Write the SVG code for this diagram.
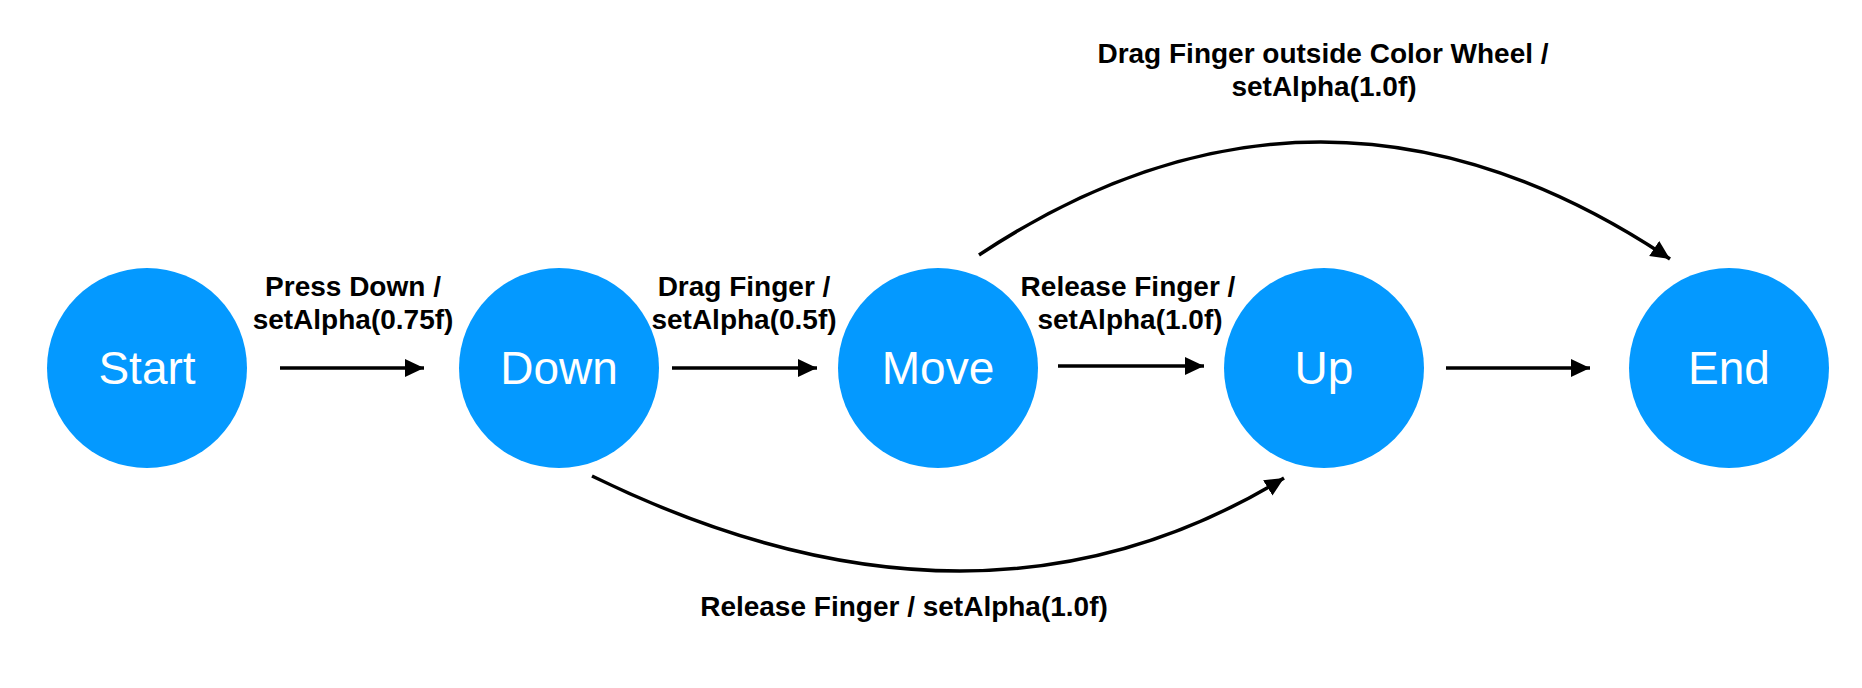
<svg xmlns="http://www.w3.org/2000/svg" width="1862" height="688" viewBox="0 0 1862 688">
<style>
.node{fill:#0499FF}
.ntext{font-family:"Liberation Sans",Arial,sans-serif;font-size:46px;fill:#fff;text-anchor:middle}
.lbl{font-family:"Liberation Sans",Arial,sans-serif;font-size:28px;font-weight:bold;fill:#000;text-anchor:middle}
.edge{fill:none;stroke:#000;stroke-width:3.5}
</style>
<defs>
<marker id="ah" markerUnits="userSpaceOnUse" markerWidth="22" markerHeight="22" refX="19" refY="9" orient="auto">
<path d="M0,0 L19,9 L0,18 Z" fill="#000"/>
</marker>
</defs>
<rect width="1862" height="688" fill="#fff"/>
<g id="start"><circle class="node" cx="147" cy="368" r="100"/><text class="ntext" x="147" y="384">Start</text></g>
<g id="down"><circle class="node" cx="559" cy="368" r="100"/><text class="ntext" x="559" y="384">Down</text></g>
<g id="move"><circle class="node" cx="938" cy="368" r="100"/><text class="ntext" x="938" y="384">Move</text></g>
<g id="up"><circle class="node" cx="1324" cy="368" r="100"/><text class="ntext" x="1324" y="384">Up</text></g>
<g id="end"><circle class="node" cx="1729" cy="368" r="100"/><text class="ntext" x="1729" y="384">End</text></g>
<g id="connectors">
<line class="edge" x1="280" y1="368" x2="424" y2="368" marker-end="url(#ah)"/>
<line class="edge" x1="672" y1="368" x2="817" y2="368" marker-end="url(#ah)"/>
<line class="edge" x1="1058" y1="366" x2="1204" y2="366" marker-end="url(#ah)"/>
<line class="edge" x1="1446" y1="368" x2="1590" y2="368" marker-end="url(#ah)"/>
<path class="edge" d="M979,255 Q1323,27 1670,259" marker-end="url(#ah)"/>
<path class="edge" d="M592,476 Q978,665 1284,478" marker-end="url(#ah)"/>
</g>
<g id="labels">
<text class="lbl" x="353" y="296">Press Down /</text>
<text class="lbl" x="353" y="329">setAlpha(0.75f)</text>
<text class="lbl" x="744" y="296">Drag Finger /</text>
<text class="lbl" x="744" y="329">setAlpha(0.5f)</text>
<text class="lbl" x="1128" y="296">Release Finger /</text>
<text class="lbl" x="1130" y="329">setAlpha(1.0f)</text>
<text class="lbl" x="1323" y="63">Drag Finger outside Color Wheel /</text>
<text class="lbl" x="1324" y="96">setAlpha(1.0f)</text>
<text class="lbl" x="904" y="616">Release Finger / setAlpha(1.0f)</text>
</g>
</svg>
